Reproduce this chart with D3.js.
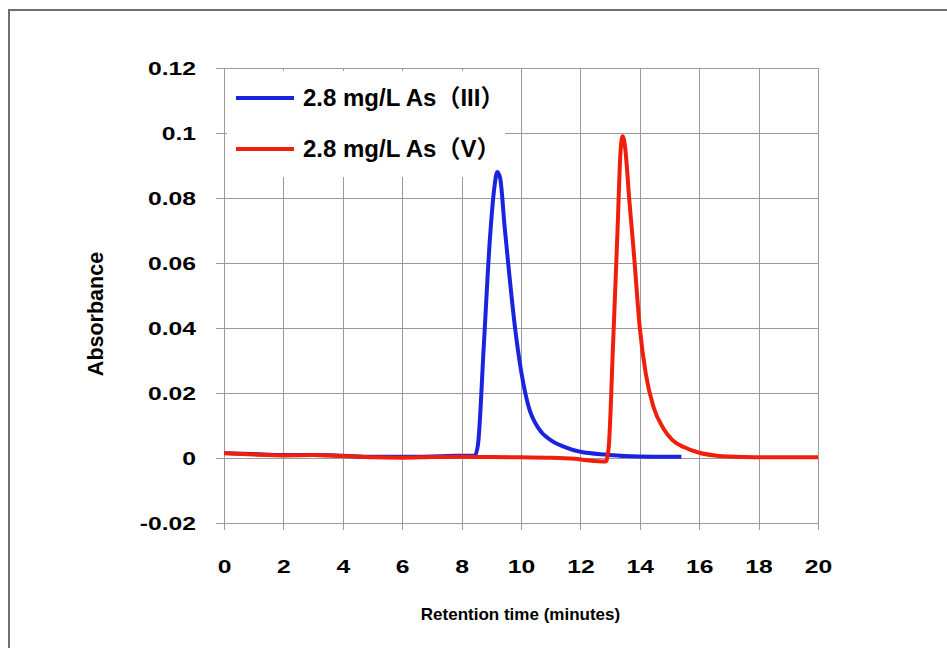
<!DOCTYPE html>
<html lang="en">
<head>
<meta charset="utf-8">
<title>As speciation chromatogram</title>
<script src="https://cdn.jsdelivr.net/npm/d3@7/dist/d3.min.js"></script>
<style>
	body { margin: 0; background: #fff; }
	svg { font-family: "Liberation Sans", Arial, "Noto Sans CJK JP", sans-serif; }
	.grid line { stroke: #9a9a9a; stroke-width: 1; shape-rendering: crispEdges; }
	.axis path { display: none; }
	.axis line { stroke: #9a9a9a; shape-rendering: crispEdges; }
	.axis text { font-size: 19px; font-weight: bold; fill: #000; }
</style>
</head>
<body>
<div id="chart"></div>
<script>
	// retention time (min) and absorbance
	var asIIITime  = [0, 1, 2, 3, 4, 5, 6, 7, 8, 8.45, 8.55, 8.75, 8.95, 9.1, 9.2, 9.3, 9.45, 9.6, 9.8, 10.0, 10.25, 10.6, 11.0, 11.5, 12.0, 12.9, 13.5, 14.5, 15.4];
	var asIIIValue = [0.0015, 0.0012, 0.0009, 0.0009, 0.0007, 0.0004, 0.0004, 0.0005, 0.0007, 0.0008, 0.004, 0.035, 0.067, 0.083, 0.088, 0.086, 0.071, 0.057, 0.040, 0.027, 0.016, 0.009, 0.0055, 0.0033, 0.0019, 0.001, 0.0006, 0.0004, 0.0004];

	var asVTime  = [0, 1, 2, 3, 4, 5, 6, 7, 8, 9, 10, 11, 11.8, 12.3, 12.85, 12.95, 13.1, 13.25, 13.35, 13.42, 13.5, 13.65, 13.8, 14.0, 14.2, 14.45, 14.8, 15.1, 15.5, 16.0, 16.6, 17.5, 18.5, 20];
	var asVValue = [0.0015, 0.0011, 0.0008, 0.0009, 0.0006, 0.0002, 0.0001, 0.0003, 0.0004, 0.0003, 0.0002, 0.0001, -0.0002, -0.0008, -0.0011, 0.003, 0.035, 0.070, 0.094, 0.099, 0.096, 0.079, 0.063, 0.040, 0.026, 0.016, 0.009, 0.0055, 0.0033, 0.0016, 0.0007, 0.0003, 0.0002, 0.0002];

	var seriesNames  = ["2.8 mg/L As", "2.8 mg/L As"];
	var seriesStates = ["III", "V"];
	var seriesColors = ["#1a23e0", "#f01e0a"];

	var xTicks = [0, 2, 4, 6, 8, 10, 12, 14, 16, 18, 20];
	var yTicks = [-0.02, 0, 0.02, 0.04, 0.06, 0.08, 0.1, 0.12];

	var W = 947, H = 648;
	var margin = {top: 68, right: 129, bottom: 125, left: 224};
	var width = W - margin.left - margin.right;
	var height = H - margin.top - margin.bottom;
	var stretch = 1.3; // tick labels in the source are drawn wide

	var svg = d3.select("#chart").append("svg")
		.attr("width", W)
		.attr("height", H);

	// outer frame (top and left edges visible)
	svg.append("path")
		.attr("d", "M9," + H + "V10H" + W)
		.attr("fill", "none")
		.attr("stroke", "#6e6e6e")
		.attr("stroke-width", 2);

	var g = svg.append("g")
		.attr("transform", "translate(" + margin.left + "," + margin.top + ")");

	var x = d3.scaleLinear().domain([0, 20]).range([0, width]);
	var y = d3.scaleLinear().domain([-0.02, 0.12]).range([height, 0]);

	// grid
	g.append("g").attr("class", "grid")
		.selectAll("line").data(xTicks).enter().append("line")
		.attr("x1", function(d){ return Math.round(x(d)) + 0.5 })
		.attr("x2", function(d){ return Math.round(x(d)) + 0.5 })
		.attr("y1", 0).attr("y2", height);
	g.append("g").attr("class", "grid")
		.selectAll("line").data(yTicks).enter().append("line")
		.attr("y1", function(d){ return Math.round(y(d)) + 0.5 })
		.attr("y2", function(d){ return Math.round(y(d)) + 0.5 })
		.attr("x1", 0).attr("x2", width);

	// axes
	g.append("g")
		.attr("class", "axis")
		.attr("transform", "translate(0," + height + ")")
		.call(d3.axisBottom(x).tickValues(xTicks).tickSize(7).tickPadding(30)
			.tickFormat(d3.format("d")))
		.selectAll("text")
		.attr("transform", "scale(" + stretch + ",1)");

	g.append("g")
		.attr("class", "axis")
		.call(d3.axisLeft(y).tickValues(yTicks).tickSize(8)
			.tickFormat(function(d){ return String(+d.toFixed(2)) }))
		.selectAll("text")
		.attr("x", -28 / stretch)
		.attr("transform", "scale(" + stretch + ",1)");

	g.append("text")
		.attr("x", width / 2 - 0.5)
		.attr("y", height + 97)
		.attr("text-anchor", "middle")
		.attr("font-size", "17px")
		.attr("font-weight", "bold")
		.text("Retention time (minutes)");

	g.append("text")
		.attr("transform", "translate(-121," + y(0.0443) + ") rotate(-90)")
		.attr("text-anchor", "middle")
		.attr("font-size", "21.5px")
		.attr("font-weight", "bold")
		.text("Absorbance");

	// legend background hides the grid behind it
	var legend = g.append("g").attr("transform", "translate(3,3)");
	legend.append("rect")
		.attr("width", 278).attr("height", 106)
		.attr("fill", "#fff");

	// curves
	var line = d3.line()
		.x(function(d){ return x(d[0]) })
		.y(function(d){ return y(d[1]) })
		.curve(d3.curveMonotoneX);

	var series = [
		d3.zip(asIIITime, asIIIValue),
		d3.zip(asVTime, asVValue)
	];

	g.selectAll(".curve")
		.data(series)
		.enter().append("path")
		.attr("class", "curve")
		.attr("d", line)
		.attr("fill", "none")
		.attr("stroke", function(d, i){ return seriesColors[i] })
		.attr("stroke-width", 4)
		.attr("stroke-linejoin", "round");

	// legend entries
	var items = legend.selectAll(".item")
		.data(seriesNames)
		.enter().append("g")
		.attr("class", "item")
		.attr("transform", function(d, i){ return "translate(0," + (27 + i * 51) + ")" });
	items.append("line")
		.attr("x1", 9).attr("x2", 67)
		.attr("stroke", function(d, i){ return seriesColors[i] })
		.attr("stroke-width", 4);
	var label = items.append("text")
		.attr("x", 76).attr("y", 8)
		.attr("font-size", "24px")
		.attr("font-weight", "bold");
	label.append("tspan").text(function(d){ return d });
	label.append("tspan").text("\uFF08");
	label.append("tspan")
		.text(function(d, i){ return seriesStates[i] });
	label.append("tspan").text("\uFF09");
</script>
</body>
</html>
